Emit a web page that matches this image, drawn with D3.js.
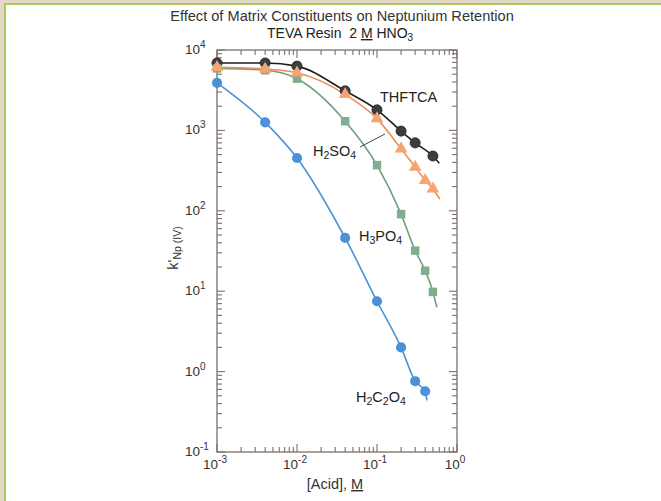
<!DOCTYPE html>
<html>
<head>
<meta charset="utf-8">
<script src="https://cdn.jsdelivr.net/npm/d3@7"></script>
<style>
  body { margin: 0; background: #fff; }
  svg { display: block; font-family: "Liberation Sans", Arial, sans-serif; }
  text { white-space: pre; }
</style>
</head>
<body>
<div id="chart"></div>
<script>
// values (acid molarity, k' for Np(IV))
var acidTHFTCA = [0.001, 0.004, 0.01, 0.04, 0.1, 0.2, 0.3, 0.5];
var kTHFTCA    = [6900, 6900, 6300, 3100, 1800, 980, 700, 480];

var acidH2SO4 = [0.001, 0.004, 0.01, 0.04, 0.1, 0.2, 0.3, 0.4, 0.5];
var kH2SO4    = [6100, 5800, 5200, 2800, 1400, 590, 350, 240, 187];

var acidH3PO4 = [0.001, 0.004, 0.01, 0.04, 0.1, 0.2, 0.3, 0.4, 0.5];
var kH3PO4    = [5900, 5600, 4400, 1300, 370, 91, 32, 18, 9.8];

var acidH2C2O4 = [0.001, 0.004, 0.01, 0.04, 0.1, 0.2, 0.3, 0.4];
var kH2C2O4    = [3900, 1260, 454, 46, 7.5, 2.0, 0.76, 0.57];

// where each fitted curve stops past the last point
var fitEndAcid = {THFTCA: 0.6, H2SO4: 0.61, H3PO4: 0.56, H2C2O4: 0.42};
var fitEndK    = {THFTCA: 390, H2SO4: 140, H3PO4: 6.3, H2C2O4: 0.44};

var xTickExps = [-3, -2, -1, 0];
var yTickExps = [-1, 0, 1, 2, 3, 4];

var width = 661, height = 501;
var axisColor = "#7b6f6a";

var svg = d3.select("#chart").append("svg")
    .attr("width", width)
    .attr("height", height);

// page frame
svg.append("rect").attr("width", width).attr("height", height).attr("fill", "#e3d8c8");
svg.append("rect").attr("x", 4).attr("y", 3).attr("width", width).attr("height", height).attr("fill", "#a9c75c");
svg.append("rect").attr("x", 6).attr("y", 5).attr("width", width).attr("height", height).attr("fill", "#fff");

var x = d3.scaleLog().domain([1e-3, 1]).range([217, 457]);
var y = d3.scaleLog().domain([0.1, 1e4]).range([452, 50]);

var isMajor = function(v){ return Math.abs(Math.log10(v) - Math.round(Math.log10(v))) < 1e-6; };

var frame = svg.append("g").attr("class", "frame");

frame.append("rect")
    .attr("x", x.range()[0]).attr("y", y.range()[1])
    .attr("width", x.range()[1] - x.range()[0])
    .attr("height", y.range()[0] - y.range()[1])
    .attr("fill", "none").attr("stroke", axisColor).attr("stroke-width", 1.3);

var xt = x.ticks();
var yt = y.ticks();

// inward ticks on all four sides
xt.forEach(function(v){
  var len = isMajor(v) ? 8 : 5;
  frame.append("line").attr("x1", x(v)).attr("x2", x(v))
      .attr("y1", y.range()[0]).attr("y2", y.range()[0] - len)
      .attr("stroke", axisColor).attr("stroke-width", 1.1);
  frame.append("line").attr("x1", x(v)).attr("x2", x(v))
      .attr("y1", y.range()[1]).attr("y2", y.range()[1] + len)
      .attr("stroke", axisColor).attr("stroke-width", 1.1);
});
yt.forEach(function(v){
  var len = isMajor(v) ? 8 : 5;
  frame.append("line").attr("y1", y(v)).attr("y2", y(v))
      .attr("x1", x.range()[0]).attr("x2", x.range()[0] + len)
      .attr("stroke", axisColor).attr("stroke-width", 1.1);
  frame.append("line").attr("y1", y(v)).attr("y2", y(v))
      .attr("x1", x.range()[1]).attr("x2", x.range()[1] - len)
      .attr("stroke", axisColor).attr("stroke-width", 1.1);
});

// tick labels, 10 with a superscript exponent
var pow = function(sel, e){
  sel.append("tspan").text("10");
  sel.append("tspan").attr("dy", -6).attr("font-size", 10).text(e < 0 ? "-" + (-e) : e);
};

xTickExps.forEach(function(e){
  var t = svg.append("text")
      .attr("x", x(Math.pow(10, e)) - 2).attr("y", 469)
      .attr("text-anchor", "middle").attr("font-size", 13.5).attr("fill", "#333");
  pow(t, e);
});
yTickExps.forEach(function(e){
  var t = svg.append("text")
      .attr("x", 185).attr("y", y(Math.pow(10, e)) + 4)
      .attr("font-size", 13.5).attr("fill", "#333");
  pow(t, e);
});

// titles
svg.append("text").attr("x", 342).attr("y", 21).attr("text-anchor", "middle")
    .attr("font-size", 14.6).attr("fill", "#333")
    .text("Effect of Matrix Constituents on Neptunium Retention");

var sub = svg.append("text").attr("x", 267).attr("y", 38)
    .attr("font-size", 14).attr("fill", "#222");
sub.append("tspan").text("TEVA Resin  2 ");
sub.append("tspan").attr("text-decoration", "underline").text("M");
sub.append("tspan").text(" HNO");
sub.append("tspan").attr("dy", 3).attr("font-size", 10).text("3");

var xl = svg.append("text").attr("x", 335).attr("y", 489).attr("text-anchor", "middle")
    .attr("font-size", 14.5).attr("fill", "#333");
xl.append("tspan").text("[Acid], ");
xl.append("tspan").attr("text-decoration", "underline").text("M");

var yl = svg.append("text")
    .attr("transform", "translate(178,248) rotate(-90)")
    .attr("text-anchor", "middle").attr("font-size", 14.5).attr("fill", "#333");
yl.append("tspan").text("k'");
yl.append("tspan").attr("dy", 3).attr("font-size", 10.5).text("Np (IV)");

// series
var series = [
  {name: "THFTCA", acid: acidTHFTCA, k: kTHFTCA, line: "#1e1e1e", fill: "#3d3d3d", shape: "circle"},
  {name: "H3PO4", acid: acidH3PO4, k: kH3PO4, line: "#6e9e80", fill: "#7fae8d", shape: "square"},
  {name: "H2SO4", acid: acidH2SO4, k: kH2SO4, line: "#f08c55", fill: "#f6a470", shape: "triangle"},
  {name: "H2C2O4", acid: acidH2C2O4, k: kH2C2O4, line: "#4a92d8", fill: "#4b90d8", shape: "circle"}
];

var line = d3.line()
    .x(function(d){ return x(d[0]); })
    .y(function(d){ return y(d[1]); })
    .curve(d3.curveMonotoneX);

var symbols = {
  circle: d3.symbol().type(d3.symbolCircle).size(80),
  square: d3.symbol().type(d3.symbolSquare).size(72),
  triangle: d3.symbol().type(d3.symbolTriangle).size(70)
};

series.forEach(function(s){
  var pts = s.acid.map(function(a, i){ return [a, s.k[i]]; });
  var curvePts = pts.concat([[fitEndAcid[s.name], fitEndK[s.name]]]);
  svg.append("path").datum(curvePts)
      .attr("d", line).attr("fill", "none")
      .attr("stroke", s.line).attr("stroke-width", 1.6);
});

series.forEach(function(s){
  var pts = s.acid.map(function(a, i){ return [a, s.k[i]]; });
  svg.selectAll(".m-" + s.name).data(pts)
    .enter().append("path")
      .attr("class", "m-" + s.name)
      .attr("transform", function(d){ return "translate(" + x(d[0]) + "," + y(d[1]) + ")"; })
      .attr("d", symbols[s.shape])
      .attr("fill", s.fill)
      .attr("stroke", s.name == "THFTCA" ? "#222" : "none")
      .attr("stroke-width", 0.8);
});

// curve labels; array parts are subscripts
var label = function(px, py, parts){
  var t = svg.append("text").attr("x", px).attr("y", py)
      .attr("font-size", 14.5).attr("fill", "#222");
  var shift = 0;
  parts.forEach(function(p){
    if (typeof p == "string") {
      t.append("tspan").attr("dy", -shift).text(p);
      shift = 0;
    } else {
      t.append("tspan").attr("dy", 3).attr("font-size", 10.5).text(p[0]);
      shift = 3;
    }
  });
};

label(380, 102, ["THFTCA"]);
label(313, 156, ["H", ["2"], "SO", ["4"]]);
label(359, 241, ["H", ["3"], "PO", ["4"]]);
label(356, 402, ["H", ["2"], "C", ["2"], "O", ["4"]]);

// leader from the H2SO4 label to its curve
svg.append("line")
    .attr("x1", 360).attr("y1", 147).attr("x2", 385).attr("y2", 134)
    .attr("stroke", "#444").attr("stroke-width", 1);
</script>
</body>
</html>
